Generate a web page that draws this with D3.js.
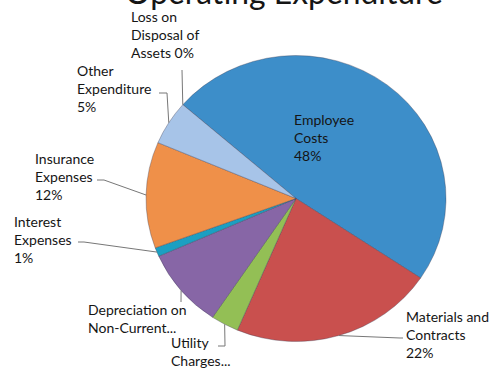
<!DOCTYPE html>
<html>
<head>
<meta charset="utf-8">
<script src="https://cdn.jsdelivr.net/npm/d3@7"></script>
<style>
  html, body { margin: 0; padding: 0; background: #fff; }
  svg { display: block; }
  text { font-family: Lato, "Open Sans", sans-serif; fill: #151515; }
</style>
</head>
<body>
<svg id="chart" width="495" height="372"></svg>
<script>
// Operating expenditure shares (percent of total)
const categories = [
  "Employee Costs",
  "Materials and Contracts",
  "Utility Charges",
  "Depreciation on Non-Current Assets",
  "Interest Expenses",
  "Insurance Expenses",
  "Other Expenditure",
  "Loss on Disposal of Assets"
];
const values = [48, 22, 3, 9, 1, 12, 5, 0];
const colors = ["#3d8ec9", "#c9504e", "#93bf55", "#8766a6", "#1b9fc2", "#ef9049", "#a7c4e8", "#2f6aa0"];
// Label text as wrapped lines; {p} is replaced by the percentage
const labelLines = [
  ["Employee", "Costs", "{p}"],
  ["Materials and", "Contracts", "{p}"],
  ["Utility", "Charges..."],
  ["Depreciation on", "Non-Current..."],
  ["Interest", "Expenses", "{p}"],
  ["Insurance", "Expenses", "{p}"],
  ["Other", "Expenditure", "{p}"],
  ["Loss on", "Disposal of", "Assets {p}"]
];
const title = "Operating Expenditure";

// ---- layout ----
const W = 495, H = 372;
const cx = 296, cy = 198.5, R = 150, yScale = 143 / 150;
const start = -49 * Math.PI / 180;
const lineH = 18;
const labelSize = 14;
// label block position (left x, first-line middle y) and leader path (elbow, end)
const labelLayout = [
  { x: 294, y: 119, inside: true },
  { x: 406, y: 316, elbow: [400, 338], end: [403, 338] },
  { x: 171, y: 342, elbow: [225, 346], end: [218, 346] },
  { x: 88,  y: 309, elbow: [181, 302], end: [181, 302] },
  { x: 14,  y: 221, elbow: [84, 242],  end: [78, 242] },
  { x: 35,  y: 158, elbow: [104, 180], end: [97, 180] },
  { x: 77,  y: 70,  elbow: [167, 93],  end: [159, 93] },
  { x: 131, y: 16,  elbow: [182, 70],  end: [182, 70] }
];

const svg = d3.select("#chart");

const data = categories.map((c, i) => ({ name: c, value: values[i], i }));
const pie = d3.pie().sort(null).value(d => d.value)
  .startAngle(start).endAngle(start + 2 * Math.PI);
const arcs = pie(data);
const arc = d3.arc().innerRadius(0).outerRadius(R);

// slices, drawn as a slightly flattened disc
const g = svg.append("g").attr("transform", `translate(${cx},${cy}) scale(1,${yScale})`);
g.selectAll("path.slice").data(arcs.filter(a => a.data.value > 0)).join("path")
  .attr("class", "slice")
  .attr("d", arc)
  .attr("fill", a => colors[a.data.i])
  .attr("stroke", "rgba(60,60,80,0.45)")
  .attr("stroke-width", 0.8)
  .attr("vector-effect", "non-scaling-stroke");

// point on the rim at the middle of a slice
function rimPoint(a) {
  const m = (a.startAngle + a.endAngle) / 2;
  return [cx + R * Math.sin(m), cy - R * Math.cos(m) * yScale];
}

// leader lines
const line = d3.line();
arcs.forEach((a, i) => {
  const L = labelLayout[i];
  if (L.inside) return;
  svg.append("path")
    .attr("d", line([rimPoint(a), L.elbow, L.end]))
    .attr("fill", "none")
    .attr("stroke", "#777")
    .attr("stroke-width", 1);
});

// labels
arcs.forEach((a, i) => {
  const L = labelLayout[i];
  const pct = Math.round(a.data.value) + "%";
  const t = svg.append("text")
    .attr("x", L.x)
    .attr("y", L.y)
    .attr("font-size", labelSize)
    .attr("dominant-baseline", "central");
  labelLines[i].forEach((ln, k) => {
    t.append("tspan")
      .attr("x", L.x)
      .attr("y", L.y + k * lineH)
      .text(ln.replace("{p}", pct));
  });
});

// title, partly above the top edge
const tt = svg.append("text")
  .attr("x", 125)
  .attr("y", 4)
  .attr("font-size", 30)
  .attr("fill", "#262626")
  .text(title);
const tw = tt.node().getComputedTextLength();
tt.attr("font-size", 30 * 318 / tw);
</script>
</body>
</html>
